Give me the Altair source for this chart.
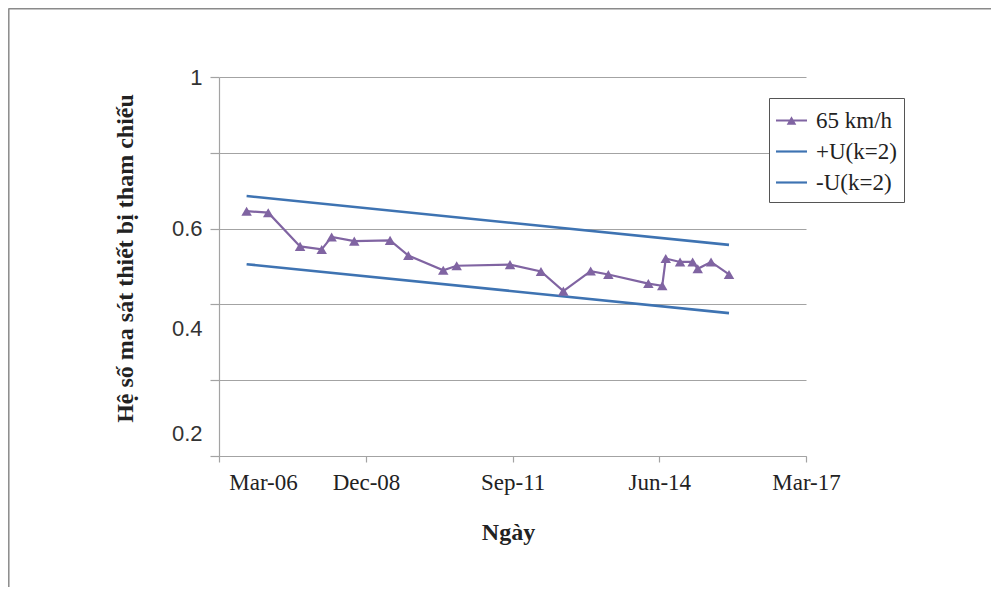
import altair as alt
import pandas as pd

# ---- data ----
dates = ["2006-09-06", "2007-02-01", "2007-09-07", "2008-02-02", "2008-04-10",
         "2008-09-12", "2009-05-15", "2009-09-17", "2010-05-14", "2010-08-14",
         "2011-08-14", "2012-03-13", "2012-08-13", "2013-02-16", "2013-06-17",
         "2014-03-18", "2014-06-21", "2014-07-15", "2014-10-21", "2015-01-15",
         "2015-02-19", "2015-05-21", "2015-09-21"]
friction_65 = [0.646, 0.642, 0.553, 0.545, 0.578, 0.567, 0.569, 0.529, 0.490,
               0.502, 0.505, 0.487, 0.435, 0.488, 0.479, 0.455, 0.449, 0.521,
               0.512, 0.512, 0.494, 0.512, 0.479]
band_dates = ["2006-09-06", "2015-09-21"]
upper_u = [0.686, 0.557]
lower_u = [0.506, 0.377]

series_names = ["65 km/h", "+U(k=2)", "-U(k=2)"]
series_colors = ["#8064A2", "#3E73B2", "#3E73B2"]
x_tick_months = [(2006, 3), (2008, 12), (2011, 9), (2014, 6), (2017, 3)]
y_grid_values = [0, 0.2, 0.4, 0.6, 0.8, 1.0]
y_label_values = [1.0, 0.6, 0.337, 0.06]
y_label_texts = ["1", "0.6", "0.4", "0.2"]

PURPLE = "#8064A2"
BLUE = "#3E73B2"
GRID = "#a3a3a3"
SERIF = "Liberation Serif"

main_df = pd.DataFrame({"date": dates, "value": friction_65, "series": series_names[0]})
band_df = pd.DataFrame({
    "date": band_dates * 2,
    "value": upper_u + lower_u,
    "series": [series_names[1]] * 2 + [series_names[2]] * 2,
})
legend_df = pd.DataFrame({"series": series_names, "date": ["1990-01-01"] * 3, "value": [0.5] * 3})

x_domain = [alt.DateTime(year=2006, month=3, date=1), alt.DateTime(year=2017, month=3, date=1)]

x_axis = alt.Axis(
    values=[alt.DateTime(year=y, month=m, date=1) for y, m in x_tick_months],
    format="%b-%y", grid=False, tickSize=6, tickColor=GRID, domainColor=GRID,
    domainWidth=1.2, tickWidth=1.2,
    labelFont=SERIF, labelFontSize=23, labelColor="#222",
    labelPadding=9, labelFlush=False, labelOverlap=False,
    labelOffset={"condition": {"test": "datum.value < datetime(2007, 0, 1)", "value": 44}, "value": 0},
    title="Ngày", titleFont=SERIF, titleFontSize=24, titleFontWeight="bold",
    titleColor="#222", titleX=289, titleY=83, titleBaseline="alphabetic",
)

grid_arr = "[" + ",".join(str(v) for v in y_grid_values) + "]"
lab_arr = "[" + ",".join(str(v) for v in y_label_values) + "]"
txt_arr = "[" + ",".join("'" + t + "'" for t in y_label_texts) + "]"
grid_test = f"indexof({grid_arr}, datum.value) >= 0"

y_axis = alt.Axis(
    values=sorted(set(y_grid_values + y_label_values)),
    labelExpr=f"indexof({lab_arr}, datum.value) >= 0 ? {txt_arr}[indexof({lab_arr}, datum.value)] : ''",
    grid=True, gridColor=GRID, gridWidth=1.2,
    gridOpacity={"condition": {"test": grid_test, "value": 1}, "value": 0},
    tickOpacity={"condition": {"test": grid_test, "value": 1}, "value": 0},
    tickSize=9, tickColor=GRID, tickWidth=1.2, domainColor=GRID, domainWidth=1.2,
    labelFont="Liberation Sans", labelFontSize=22, labelColor="#333",
    labelPadding=8, labelOverlap=False, labelBaseline="middle",
    title="Hệ số ma sát thiết bị tham chiếu", titleFont=SERIF,
    titleFontSize=24, titleFontWeight="bold", titleColor="#222",
    titleAngle=270, titleX=-87, titleY=181, titleBaseline="alphabetic", titleAlign="center",
)

x_enc = alt.X("date:T", scale=alt.Scale(domain=x_domain), axis=x_axis)
y_enc = alt.Y("value:Q", scale=alt.Scale(domain=[0, 1], nice=False, zero=False), axis=y_axis)

legend = alt.Legend(
    title=None, orient="none", legendX=550, legendY=21,
    labelFont=SERIF, labelFontSize=23, labelColor="#222",
)
line_path = "M-1,-0.07H1V0.07H-1Z"
tri_path = line_path + "M-0.31,0.27L0,-0.27L0.31,0.27Z"
shape_range = [tri_path, line_path, line_path]

band = alt.Chart(band_df).mark_line(color=BLUE, strokeWidth=2.6).encode(
    x=x_enc, y=y_enc, detail="series:N"
)
line = alt.Chart(main_df).mark_line(color=PURPLE, strokeWidth=2.2).encode(x=x_enc, y=y_enc)
pts = alt.Chart(main_df).mark_point(
    shape="triangle-up", filled=True, size=110, color=PURPLE, opacity=1
).encode(x=x_enc, y=y_enc)

leg_layer = alt.Chart(legend_df).mark_point(filled=True, clip=True).encode(
    x=x_enc, y=y_enc,
    fill=alt.Fill("series:N", scale=alt.Scale(domain=series_names, range=series_colors), legend=legend),
    shape=alt.Shape("series:N", scale=alt.Scale(domain=series_names, range=shape_range), legend=legend),
)

frame_data = alt.Data(values=[{"k": 1}])
top_border = alt.Chart(frame_data).mark_rule(color="#8a8a8a", strokeWidth=1.5).encode(
    x=alt.value(-210.5), x2=alt.value(772), y=alt.value(-68.2)
)
left_border = alt.Chart(frame_data).mark_rule(color="#8a8a8a", strokeWidth=1.5).encode(
    x=alt.value(-210.2), y=alt.value(-68.5), y2=alt.value(520)
)

chart = alt.layer(band, line, pts, leg_layer, top_border, left_border).properties(
    width=587, height=379,
    autosize=alt.AutoSizeParams(type="none"),
    padding={"left": 211, "top": 69, "right": 185, "bottom": 131},
    background="white",
).configure(
    view=alt.ViewConfig(stroke=None),
    legend=alt.LegendConfig(
        fillColor="white", strokeColor="#555", padding=7,
        labelFont=SERIF, labelFontSize=23, labelColor="#222",
        labelOffset=9, symbolSize=961, rowPadding=3,
        symbolStrokeWidth=0, symbolOpacity=1, labelLimit=300,
    ),
    style={"guide-label": {"font": SERIF, "fontSize": 23, "fill": "#222"}},
)

chart.save("out.html", embed_options={"renderer": "svg", "actions": False})
